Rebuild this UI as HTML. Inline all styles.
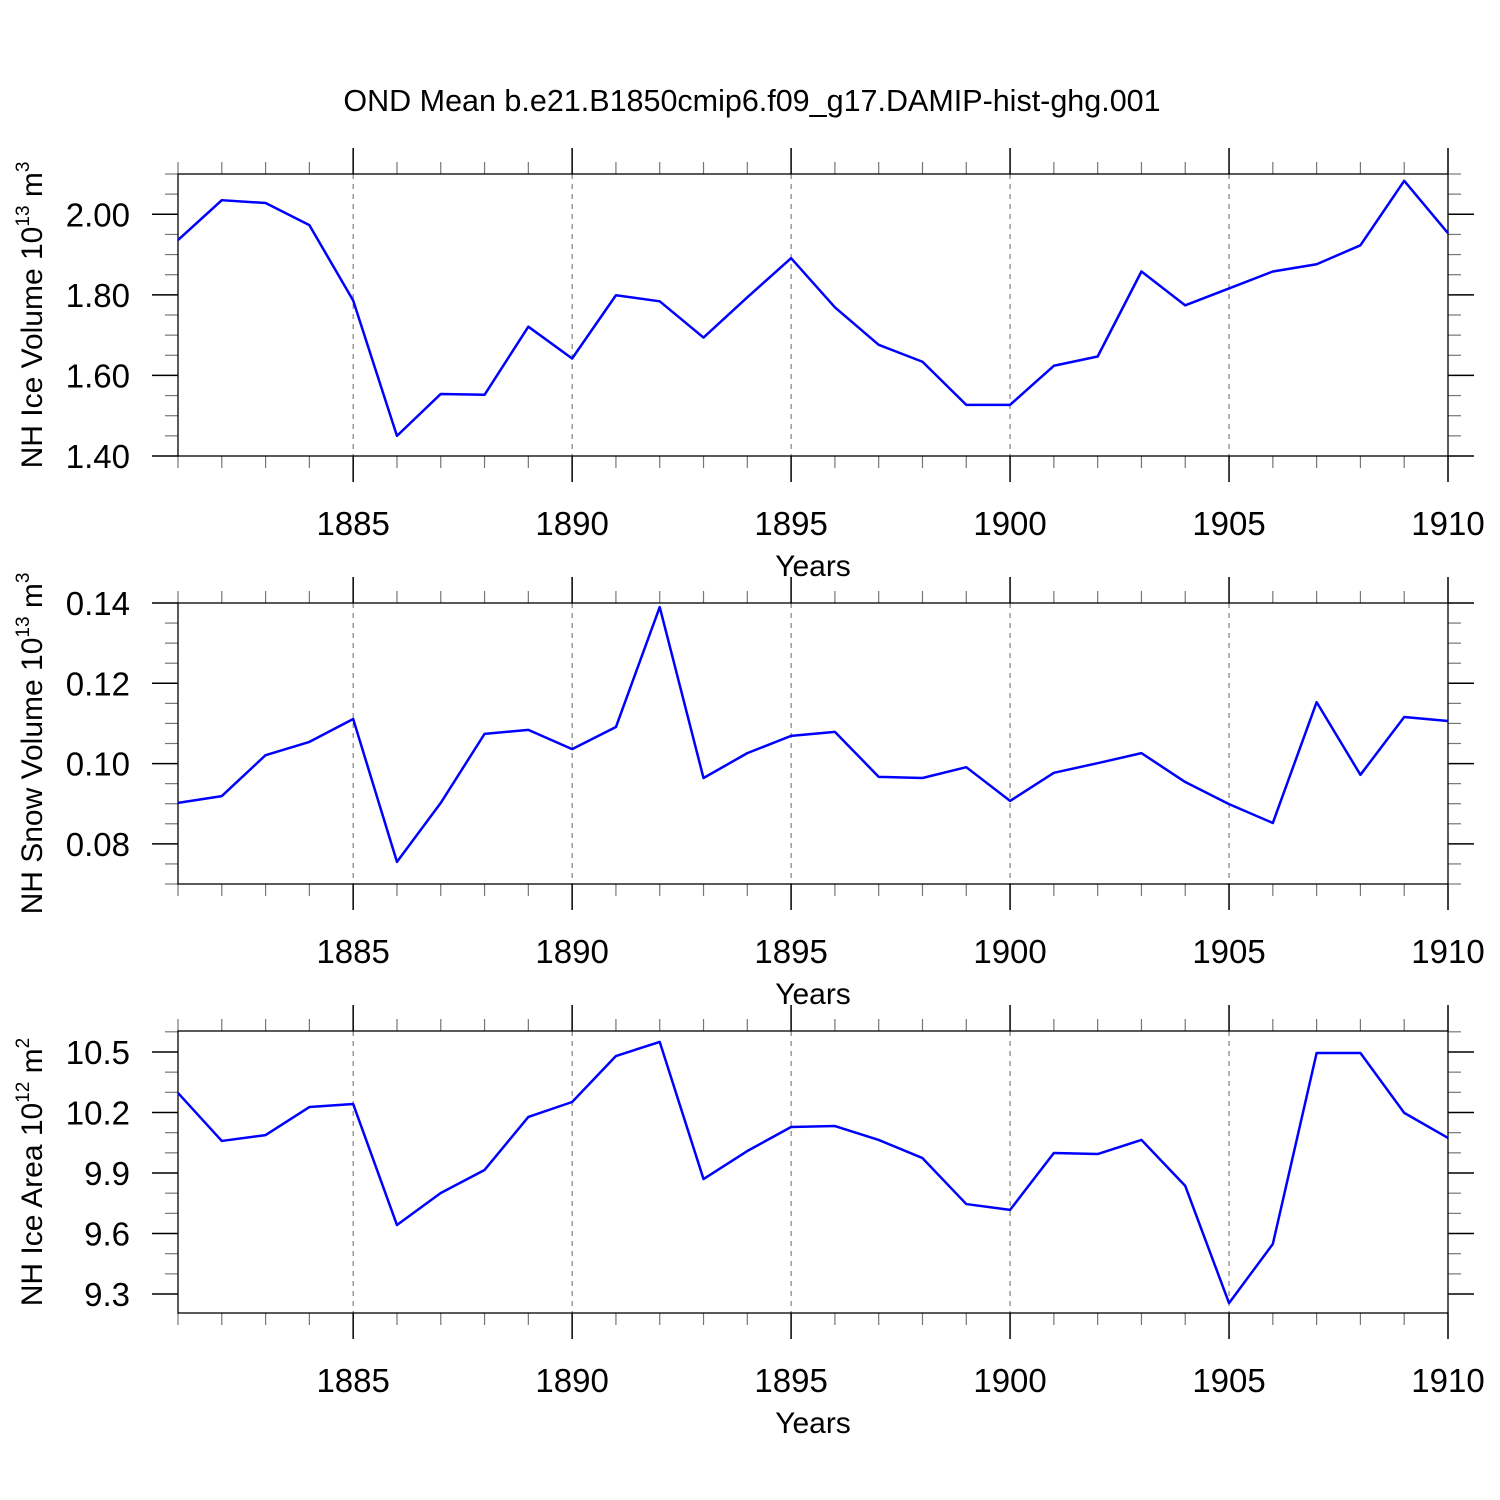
<!DOCTYPE html>
<html><head><meta charset="utf-8"><style>body{margin:0;background:#fff}svg{display:block}</style></head>
<body>
<svg id="c" width="1500" height="1500" xmlns="http://www.w3.org/2000/svg" font-family="'Liberation Sans', sans-serif">
<text x="752" y="111" font-size="30.5" text-anchor="middle">OND Mean b.e21.B1850cmip6.f09_g17.DAMIP-hist-ghg.001</text>
</svg>
<script>
const years = [1881,1882,1883,1884,1885,1886,1887,1888,1889,1890,1891,1892,1893,1894,1895,1896,1897,1898,1899,1900,1901,1902,1903,1904,1905,1906,1907,1908,1909,1910];
const iceVolume = [1.936,2.035,2.028,1.973,1.786,1.450,1.554,1.552,1.721,1.642,1.799,1.784,1.694,1.794,1.891,1.769,1.676,1.634,1.527,1.527,1.624,1.647,1.858,1.774,1.816,1.858,1.876,1.923,2.083,1.953];
const snowVolume = [0.0902,0.0919,0.1021,0.1054,0.1111,0.0755,0.0902,0.1074,0.1084,0.1036,0.1091,0.1390,0.0964,0.1026,0.1069,0.1079,0.0967,0.0964,0.0991,0.0907,0.0977,0.1001,0.1026,0.0954,0.0899,0.0852,0.1153,0.0972,0.1116,0.1106];
const iceArea = [10.297,10.059,10.088,10.227,10.242,9.642,9.801,9.915,10.178,10.252,10.480,10.550,9.870,10.009,10.128,10.133,10.064,9.974,9.746,9.717,9.999,9.994,10.064,9.836,9.255,9.548,10.495,10.495,10.198,10.074];
const xTickYears = [1885,1890,1895,1900,1905,1910];
const iceVolTicks = ["1.40","1.60","1.80","2.00"];
const snowTicks = ["0.08","0.10","0.12","0.14"];
const areaTicks = ["9.3","9.6","9.9","10.2","10.5"];

const NS="http://www.w3.org/2000/svg";
const svg=document.getElementById('c');
function mk(tag,attrs,parent){const e=document.createElementNS(NS,tag);for(const k in attrs)e.setAttribute(k,attrs[k]);(parent||svg).appendChild(e);return e;}
const X0=178,X1=1448,YMIN=1881,YMAX=1910;
const xs=v=>X0+(v-YMIN)/(YMAX-YMIN)*(X1-X0);

const panels=[
 {name:'ice-volume',top:174,bot:456,lo:1.40,hi:2.10,data:iceVolume,ticks:iceVolTicks,minor:0.05,label:'NH Ice Volume 10',sup:'13',unit:' m',usup:'3'},
 {name:'snow-volume',top:603,bot:884,lo:0.07,hi:0.14,data:snowVolume,ticks:snowTicks,minor:0.005,label:'NH Snow Volume 10',sup:'13',unit:' m',usup:'3'},
 {name:'ice-area',top:1031,bot:1313,lo:9.206,hi:10.604,data:iceArea,ticks:areaTicks,minor:0.1,label:'NH Ice Area 10',sup:'12',unit:' m',usup:'2'}
];
panels.forEach(p=>{
 const g=mk('g',{});
 
 
 const ys=v=>p.bot-(v-p.lo)/(p.hi-p.lo)*(p.bot-p.top);
 xTickYears.forEach(y=>{if(y<YMAX){const l=mk('line',{x1:xs(y),x2:xs(y),y1:p.top,y2:p.bot,stroke:'#666','stroke-width':1,'stroke-dasharray':'5,5'},g);
  
  }});
 years.forEach(y=>{const maj=(y%5===0);const len=maj?26:12;
  mk('line',{x1:xs(y),x2:xs(y),y1:p.top,y2:p.top-len,stroke:maj?'#000':'#777','stroke-width':maj?1.5:1.2},g);
  mk('line',{x1:xs(y),x2:xs(y),y1:p.bot,y2:p.bot+len,stroke:maj?'#000':'#777','stroke-width':maj?1.5:1.2},g);});
 xTickYears.forEach(y=>{const t=mk('text',{x:xs(y),y:p.bot+79,'font-size':33,'text-anchor':'middle'},g);t.textContent=y;
  
  });
 const xt=mk('text',{x:813,y:p.bot+120,'font-size':30,'text-anchor':'middle'},g);xt.textContent='Years';
 
 
 const first=Math.ceil(p.lo/p.minor-1e-6);
 for(let k=first;k*p.minor<=p.hi+1e-6;k++){const v=k*p.minor;const maj=p.ticks.some(t=>Math.abs(+t-v)<1e-6);const len=maj?26:13;
  mk('line',{x1:X0,x2:X0-len,y1:ys(v),y2:ys(v),stroke:maj?'#000':'#777','stroke-width':maj?1.5:1.2},g);
  mk('line',{x1:X1,x2:X1+len,y1:ys(v),y2:ys(v),stroke:maj?'#000':'#777','stroke-width':maj?1.5:1.2},g);}
 p.ticks.forEach(t=>{const e=mk('text',{x:130,y:ys(+t)+12,'font-size':33,'text-anchor':'end'},g);e.textContent=t;
  
  });
 mk('rect',{x:X0,y:p.top,width:X1-X0,height:p.bot-p.top,fill:'none',stroke:'#000','stroke-width':1.3},g);
 const yt=mk('text',{transform:`translate(42,${(p.top+p.bot)/2}) rotate(-90)`,'font-size':30,'text-anchor':'middle'},g);
 yt.innerHTML=`${p.label}<tspan dy="-13" font-size="19">${p.sup}</tspan><tspan dy="13">${p.unit}</tspan><tspan dy="-13" font-size="19">${p.usup}</tspan>`;
 
 
 const pts=years.map((y,i)=>xs(y)+','+ys(p.data[i])).join(' ');
 const pl=mk('polyline',{points:pts,fill:'none',stroke:'#0000ff','stroke-width':2.5,'stroke-linejoin':'round'},g);
 
 
});
</script>
</body></html>
